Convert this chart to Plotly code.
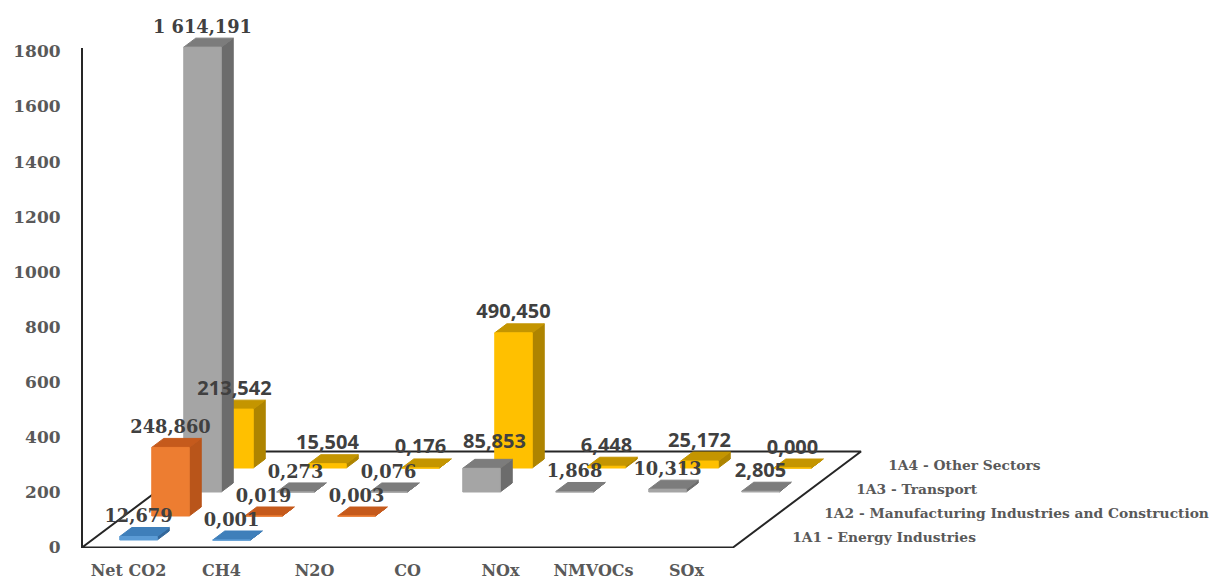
import plotly.graph_objects as go

# Emissions by pollutant and energy sub-sector
categories = ["Net CO2", "CH4", "N2O", "CO", "NOx", "NMVOCs", "SOx"]
series_names = [
    "1A1 - Energy Industries",
    "1A2 - Manufacturing Industries and Construction",
    "1A3 - Transport",
    "1A4 - Other Sectors",
]
energy_industries = [12.679, 0.001, None, None, None, None, None]
manufacturing = [248.860, 0.019, 0.003, None, None, None, None]
transport = [1614.191, 0.273, 0.076, 85.853, 1.868, 10.313, 2.805]
other_sectors = [213.542, 15.504, 0.176, 490.450, 6.448, 25.172, 0.000]
series_values = [energy_industries, manufacturing, transport, other_sectors]
y_ticks = [0, 200, 400, 600, 800, 1000, 1200, 1400, 1600, 1800]

# Face colours per series: front, top, side
FRONT = ["#5B9BD5", "#ED7D31", "#A5A5A5", "#FFC000"]
TOP = ["#3F7FBA", "#C55A1C", "#7C7C7C", "#C49500"]
SIDE = ["#33679A", "#B9551A", "#6C6C6C", "#AE8400"]
SERIF = "DejaVu Serif"
SANS = "Open Sans"
LABEL_FONTS = [
    [SERIF] * 7,
    [SERIF] * 7,
    [SERIF, SERIF, SERIF, SANS, SERIF, SERIF, SANS],
    [SANS] * 7,
]
# Pixel shift (right, up) for the one label moved clear of its neighbours
LABEL_SHIFT = {(2, 3): (13.0, 6.0)}
INK = "#595959"
LABEL_INK = "#404040"
LINE = "#262626"

# Oblique projection, expressed in axis units
COL_PX = 93.0
VALUE_PX = 0.2756
ROW_DX = 32.0 / COL_PX
ROW_DY = 24.0 / VALUE_PX
BAR_W = 0.403
BAR_DEPTH = 0.375
ROWS = len(series_names)
COLS = len(categories)
SERIF_LIFT = 18.7
SANS_LIFT = 19.5
LEFT_PAD = 4


def project(col, depth, value):
    return col + depth * ROW_DX, value + depth * ROW_DY


def polygon_trace(polys, color):
    xs, ys = [], []
    for poly in polys:
        xs += [p[0] for p in poly] + [poly[0][0], None]
        ys += [p[1] for p in poly] + [poly[0][1], None]
    return go.Scatter(
        x=xs, y=ys, mode="lines", fill="toself", fillcolor=color,
        line=dict(color=color, width=1), hoverinfo="skip", showlegend=False,
    )


def frame_trace(points):
    return go.Scatter(
        x=[p[0] for p in points], y=[p[1] for p in points], mode="lines",
        line=dict(color=LINE, width=2), hoverinfo="skip", showlegend=False,
    )


def format_value(v):
    return f"{v:,.3f}".replace(",", " ").replace(".", ",")


fig = go.Figure()

# Floor outline and the value wall
fig.add_trace(frame_trace([
    (0, 1812), (0, 0), project(COLS, 0, 0), project(COLS, ROWS, 0),
    project(0, ROWS, 0), (0, 0),
]))

# Bars are painted from the back row to the front row
for r in reversed(range(ROWS)):
    sides, tops, fronts = [], [], []
    d0 = r + (1 - BAR_DEPTH) / 2
    d1 = d0 + BAR_DEPTH
    for c, v in enumerate(series_values[r]):
        if v is None:
            continue
        x0 = c + (1 - BAR_W) / 2
        x1 = x0 + BAR_W
        fronts.append([project(x0, d0, 0), project(x1, d0, 0), project(x1, d0, v), project(x0, d0, v)])
        tops.append([project(x0, d0, v), project(x1, d0, v), project(x1, d1, v), project(x0, d1, v)])
        sides.append([project(x1, d0, 0), project(x1, d1, 0), project(x1, d1, v), project(x1, d0, v)])
    fig.add_trace(polygon_trace(sides, SIDE[r]))
    fig.add_trace(polygon_trace(tops, TOP[r]))
    fig.add_trace(polygon_trace(fronts, FRONT[r]))

# Value labels sit above the front face of every bar
for r in reversed(range(ROWS)):
    d0 = r + (1 - BAR_DEPTH) / 2
    lx, ly, lt, lf = [], [], [], []
    for c, v in enumerate(series_values[r]):
        if v is None:
            continue
        family = LABEL_FONTS[r][c]
        shift_x, shift_y = LABEL_SHIFT.get((r, c), (0.0, 0.0))
        lift = (SERIF_LIFT if family == SERIF else SANS_LIFT) + shift_y
        px, py = project(c + 0.5, d0, v)
        lx.append(px + shift_x / COL_PX)
        ly.append(py + lift / VALUE_PX)
        lt.append(format_value(v))
        lf.append(family)
    fig.add_trace(go.Scatter(
        x=lx, y=ly, text=lt, mode="text", textposition="middle center",
        textfont=dict(
            family=lf,
            size=[17.8 if f == SERIF else 20 for f in lf],
            color=LABEL_INK,
            weight="bold",
        ),
        hoverinfo="skip", showlegend=False,
    ))

# Series names run along the depth axis
name_xy = [project(COLS + 0.465, r + 0.5, -11) for r in range(ROWS)]
fig.add_trace(go.Scatter(
    x=[p[0] for p in name_xy], y=[p[1] for p in name_xy], text=series_names,
    mode="text", textposition="middle right",
    textfont=dict(family=SERIF, size=13.8, color=INK, weight="bold"),
    hoverinfo="skip", showlegend=False,
))

fig.update_layout(
    width=1219, height=581,
    margin=dict(l=82 - LEFT_PAD, r=0, t=0, b=33),
    paper_bgcolor="white", plot_bgcolor="white",
    showlegend=False,
    xaxis=dict(
        range=[-LEFT_PAD / COL_PX, (1219 - 82) / COL_PX], automargin=False,
        tickmode="array", tickvals=[i + 0.5 for i in range(COLS)], ticktext=categories,
        showgrid=False, zeroline=False, showline=False,
        ticks="outside", ticklen=8, tickcolor="rgba(0,0,0,0)",
        tickfont=dict(family=SERIF, size=16, color=INK, weight="bold"),
        tickangle=0, fixedrange=True,
    ),
    yaxis=dict(
        range=[-0.5 / VALUE_PX, 547.5 / VALUE_PX], automargin=False,
        tickmode="array", tickvals=y_ticks, ticktext=[str(t) for t in y_ticks],
        showgrid=False, zeroline=False, showline=False,
        ticks="outside", ticklen=13, tickcolor="rgba(0,0,0,0)",
        tickfont=dict(family=SERIF, size=17, color=INK, weight="bold"),
        fixedrange=True,
    ),
)

fig.write_html("out.html", config={"displayModeBar": False})
